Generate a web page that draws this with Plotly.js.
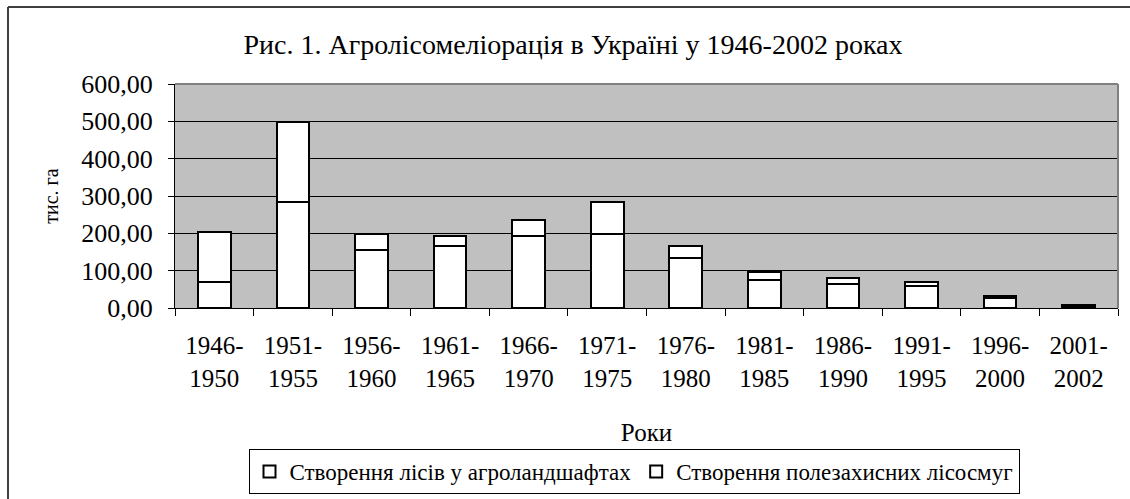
<!DOCTYPE html>
<html>
<head>
<meta charset="utf-8">
<script src="https://cdn.plot.ly/plotly-3.0.1.min.js"></script>
<style>
  html, body { margin: 0; padding: 0; background: #ffffff; }
  #chart { width: 1130px; height: 499px; }
</style>
</head>
<body>
<div id="chart"></div>
<script>
const periods = ["1946-<br>1950", "1951-<br>1955", "1956-<br>1960", "1961-<br>1965", "1966-<br>1970", "1971-<br>1975",
                 "1976-<br>1980", "1981-<br>1985", "1986-<br>1990", "1991-<br>1995", "1996-<br>2000", "2001-<br>2002"];
const seriesNames = ["Створення лісів у агроландшафтах", "Створення полезахисних лісосмуг"];
const forestsInAgrolandscapes = [70, 284, 155, 167, 194, 198, 135, 75, 65, 59, 27, 4];
const shelterbelts = [133, 213, 43, 27, 42, 85, 32, 22, 16, 11, 6, 4];
const yTickValues = [0, 100, 200, 300, 400, 500, 600];

const FONT = "'Liberation Serif'";

const barStyle = {
  type: "bar",
  marker: { color: "#ffffff", line: { color: "#000000", width: 2 } },
  hoverinfo: "skip"
};

const traces = [
  Object.assign({}, barStyle, { name: seriesNames[0], x: periods, y: forestsInAgrolandscapes }),
  Object.assign({}, barStyle, { name: seriesNames[1], x: periods, y: shelterbelts })
];

const L = 175, R = 1118, T = 84, B = 308;
const pw = R - L, ph = B - T;
const px = v => (v - L) / pw;
const py = v => (B - v) / ph;

const layout = {
  width: 1130, height: 499,
  margin: { l: L, r: 1130 - R, t: T, b: 499 - B, pad: 0, autoexpand: false },
  paper_bgcolor: "#ffffff",
  plot_bgcolor: "#c0c0c0",
  separators: ", ",
  font: { family: FONT, color: "#000000", size: 24 },
  barmode: "stack",
  bargap: 0.585,
  showlegend: true,
  title: {
    text: "Рис. 1. Агролісомеліорація в Україні у 1946-2002 роках",
    font: { family: FONT, size: 28, color: "#000000" },
    x: 573 / 1130, xref: "container", xanchor: "center",
    y: 1 - 44 / 499, yref: "container", yanchor: "middle"
  },
  xaxis: {
    type: "category",
    automargin: false,
    tickson: "boundaries",
    ticks: "outside", ticklen: 7, tickcolor: "#000000", tickwidth: 1,
    showline: true, linecolor: "#000000", linewidth: 1,
    showgrid: false, zeroline: false,
    tickfont: { family: FONT, size: 25 },
    ticklabelstandoff: 15,
    title: { text: "Роки", font: { family: FONT, size: 25 }, standoff: 32 },
    fixedrange: true
  },
  yaxis: {
    automargin: false,
    range: [0, 600],
    tickvals: yTickValues,
    tickformat: ".2f",
    ticks: "outside", ticklen: 6, tickcolor: "#000000", tickwidth: 1,
    showline: true, linecolor: "#000000", linewidth: 1,
    showgrid: true, gridcolor: "#000000", gridwidth: 1,
    zeroline: false,
    tickfont: { family: FONT, size: 26 },
    ticklabelstandoff: 10,
    title: { text: "тис. га", font: { family: FONT, size: 20 }, standoff: 17 },
    fixedrange: true
  },
  legend: {
    orientation: "h",
    xref: "container", yref: "container",
    x: 634 / 1130, xanchor: "center",
    y: 1 - 449 / 499, yanchor: "top",
    bordercolor: "#000000", borderwidth: 1,
    bgcolor: "#ffffff",
    font: { family: FONT, size: 23 },
    traceorder: "normal"
  },
  shapes: [
    { type: "line", xref: "paper", yref: "paper", x0: 0, x1: 1, y0: 1, y1: 1, line: { color: "#808080", width: 2 } },
    { type: "line", xref: "paper", yref: "paper", x0: 1, x1: 1, y0: 0, y1: 1, line: { color: "#808080", width: 2 } },
    { type: "line", xref: "paper", yref: "paper", x0: px(8), x1: px(1135), y0: py(7), y1: py(7), line: { color: "#404040", width: 2 } },
    { type: "line", xref: "paper", yref: "paper", x0: px(8), x1: px(8), y0: py(7), y1: py(505), line: { color: "#404040", width: 2 } }
  ]
};

Plotly.newPlot("chart", traces, layout, { displayModeBar: false, staticPlot: true });
</script>
</body>
</html>
